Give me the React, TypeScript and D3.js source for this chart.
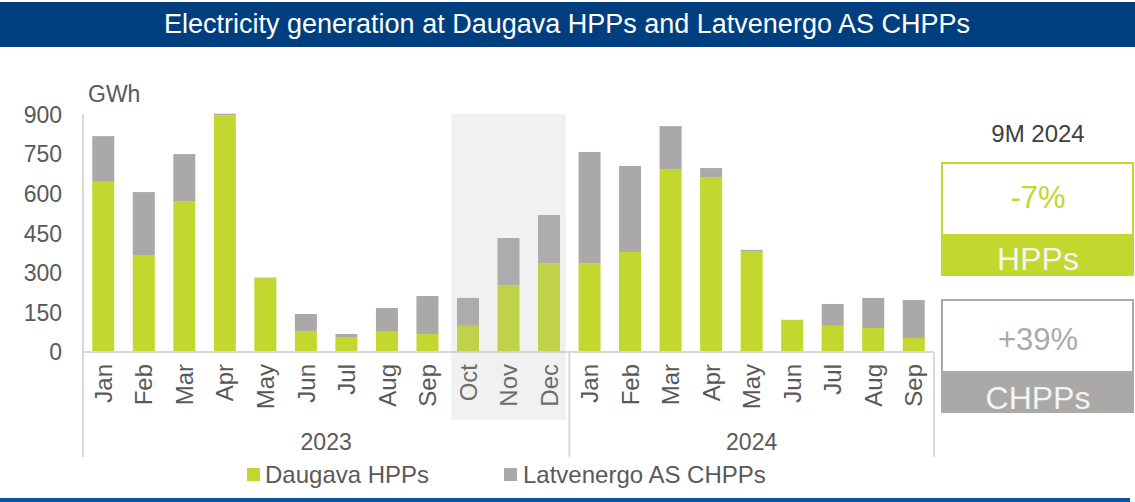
import React from "react";
import * as d3 from "d3";

const months = ["Jan","Feb","Mar","Apr","May","Jun","Jul","Aug","Sep","Oct","Nov","Dec","Jan","Feb","Mar","Apr","May","Jun","Jul","Aug","Sep"];
const years = ["2023", "2024"];
const yearCounts = [12, 9];
const hpp = [645, 365, 570, 897, 280, 80, 57, 77, 68, 99, 254, 335, 335, 379, 691, 661, 380, 121, 99, 91, 53];
const chpp = [173, 241, 180, 6, 2, 64, 11, 90, 144, 106, 178, 184, 423, 326, 165, 36, 7, 1, 83, 114, 144];
const yTicks = [0, 150, 300, 450, 600, 750, 900];
const shadedRange = [9, 11];

const GREEN = "#c2d82f";
const GRAY = "#aaa9a7";
const TEXT = "#595959";
const AXIS = "#d9d9d9";
const FONT = "'Liberation Sans', Arial, sans-serif";

export default function App() {
  const W = 1135, H = 502;
  const x = d3.scaleBand<number>().domain(d3.range(months.length)).range([83, 934]).paddingInner(0.457).paddingOuter(0.2285);
  const y = d3.scaleLinear().domain([0, 900]).range([352, 114.5]);
  const step = x.step();
  const bw = x.bandwidth();
  const x0 = x.range()[0];
  const bandLeft = (i: number) => x0 + i * step;

  let acc = 0;
  const yearBounds = yearCounts.map((c) => {
    const s = acc; acc += c;
    return [s, acc];
  });

  const shadeX0 = bandLeft(shadedRange[0]) + 3.5;
  const shadeX1 = bandLeft(shadedRange[1] + 1) - 3.5;

  return (
    <svg width={W} height={H} style={{ position: "absolute", left: 0, top: 0, fontFamily: FONT }}>
      <rect x={0} y={0} width={W} height={H} fill="#fff" />
      {/* Title bar */}
      <rect x={0} y={2} width={W} height={45} fill="#003f7f" />
      <text x={567} y={33} textAnchor="middle" fill="#fff" fontSize={27}>
        Electricity generation at Daugava HPPs and Latvenergo AS CHPPs
      </text>

      {/* Y axis labels */}
      <text x={88} y={102} fill={TEXT} fontSize={23}>GWh</text>
      {yTicks.map((t) => (
        <text key={t} x={62} y={y(t)} dy="0.36em" textAnchor="end" fill={TEXT} fontSize={23}>{t}</text>
      ))}

      {/* Bars */}
      {months.map((m, i) => (
        <g key={i}>
          <rect x={x(i)} y={y(hpp[i])} width={bw} height={y(0) - y(hpp[i])} fill={GREEN} />
          <rect x={x(i)} y={y(hpp[i] + chpp[i])} width={bw} height={y(hpp[i]) - y(hpp[i] + chpp[i])} fill={GRAY} />
        </g>
      ))}

      {/* Axes */}
      <line x1={83} x2={83} y1={114} y2={457} stroke={AXIS} strokeWidth={2} />
      <line x1={83} x2={934} y1={352} y2={352} stroke={AXIS} strokeWidth={2} />
      {yearBounds.map(([s, e], k) => (
        <line key={k} x1={bandLeft(e)} x2={bandLeft(e)} y1={352} y2={457} stroke={AXIS} strokeWidth={2} />
      ))}

      {/* Month labels */}
      {months.map((m, i) => (
        <text key={i} transform={`translate(${(x(i) as number) + bw / 2},364) rotate(-90)`} textAnchor="end" dy="0.36em" fill={TEXT} fontSize={24}>{m}</text>
      ))}

      {/* Year labels */}
      {yearBounds.map(([s, e], k) => (
        <text key={k} x={(bandLeft(s) + bandLeft(e)) / 2} y={450} textAnchor="middle" fill={TEXT} fontSize={23}>{years[k]}</text>
      ))}

      {/* Shaded region */}
      <rect x={shadeX0} y={114} width={shadeX1 - shadeX0} height={306} fill="rgb(183,183,183)" fillOpacity={0.2} />

      {/* Legend */}
      <rect x={247} y={468} width={13} height={13} fill={GREEN} />
      <text x={265} y={483} fill={TEXT} fontSize={24}>Daugava HPPs</text>
      <rect x={504} y={468} width={13} height={13} fill={GRAY} />
      <text x={523} y={483} fill={TEXT} fontSize={24}>Latvenergo AS CHPPs</text>

      {/* Right panel */}
      <text x={1038} y={142} textAnchor="middle" fill="#404040" fontSize={24}>9M 2024</text>
      <rect x={942} y={163} width={191} height={112} fill="#fff" stroke={GREEN} strokeWidth={2} />
      <rect x={941} y={234} width={193} height={42} fill={GREEN} />
      <text x={1038} y={208} textAnchor="middle" fill={GREEN} fontSize={31}>-7%</text>
      <text x={1038} y={270} textAnchor="middle" fill="#f4f4f4" fontSize={32}>HPPs</text>

      <rect x={942} y={300} width={191} height={112} fill="#fff" stroke={GRAY} strokeWidth={2} />
      <rect x={941} y={371} width={193} height={42} fill={GRAY} />
      <text x={1038} y={350} textAnchor="middle" fill={GRAY} fontSize={31}>+39%</text>
      <text x={1038} y={409} textAnchor="middle" fill="#f4f4f4" fontSize={32}>CHPPs</text>

      {/* Bottom line */}
      <rect x={0} y={498} width={1130} height={4} fill="#0057a3" />
    </svg>
  );
}
